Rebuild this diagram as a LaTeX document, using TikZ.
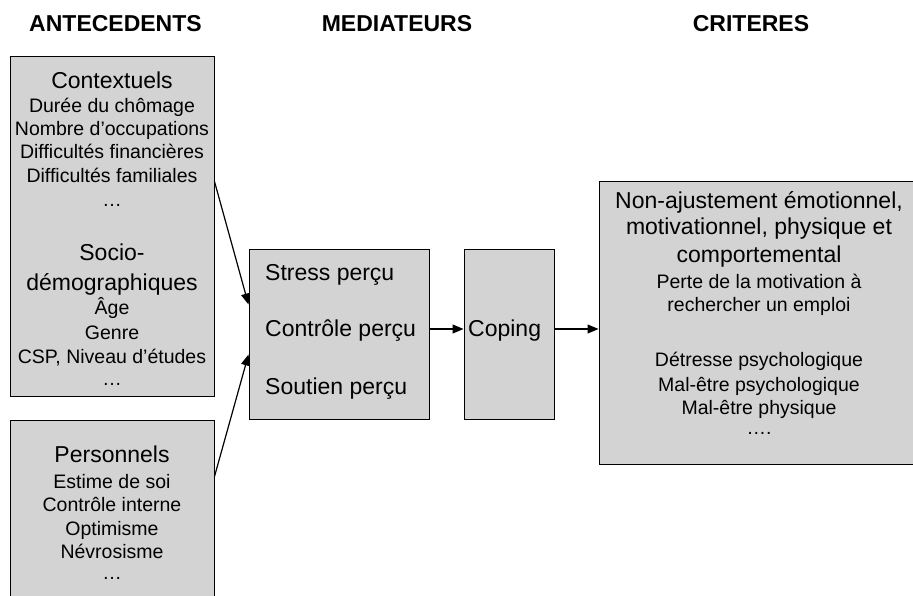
\documentclass[tikz,border=0pt]{standalone}
\usepackage{fontspec}
\setmainfont{Liberation Sans}
\usetikzlibrary{arrows.meta,shadows}
\definecolor{boxgray}{RGB}{211,211,211}

\begin{document}
\begin{tikzpicture}[x=1pt,y=-1pt,>={Triangle[length=11pt,width=9pt]},
		boite/.style={draw,line width=1pt,fill=boxgray,
			drop shadow={shadow xshift=1pt,shadow yshift=-1.2pt,fill=black!60,opacity=1}},
		titre/.style={font=\bfseries\fontsize{23}{27}\selectfont,inner sep=0pt},
		grand/.style={font=\fontsize{23}{27}\selectfont,inner sep=0pt,anchor=base},
		item/.style={font=\fontsize{19.5}{23}\selectfont,inner sep=0pt,anchor=base}]
		\useasboundingbox (0,0) rectangle (913,596);

		% column headings
		\node[titre] (hante) at (115.5,23.5) {ANTECEDENTS};
		\node[titre] (hmed) at (397,23.5) {MEDIATEURS};
		\node[titre] (hcrit) at (751,23.5) {CRITERES};

		% create the boxes
		\node[boite,minimum width=204pt,minimum height=339pt] (contexte) at (112,226.5) {};
		\node[boite,minimum width=204pt,minimum height=200pt] (perso) at (112,520) {};
		\node[boite,minimum width=180pt,minimum height=169pt] (mediat) at (339,334.5) {};
		\node[boite,minimum width=90pt,minimum height=169pt] (coping) at (509,334.5) {};
		\node[boite,minimum width=320pt,minimum height=282pt] (criteres) at (759,323) {};

		% antecedents
		\node[grand] (ctx) at (112,89) {Contextuels};
		\foreach \txt/\y [count=\i] in {Durée du chômage/113, Nombre d’occupations/136,
				Difficultés financières/159, Difficultés familiales/183, …/207}
			\node[item] (ctx\i) at (112,\y) {\txt};
		\node[grand] (socio) at (112,260) {Socio-};
		\node[grand] (demo) at (112,290) {démographiques};
		\foreach \txt/\y [count=\i] in {Âge/314, Genre/339, {CSP, Niveau d’études}/363, …/385}
			\node[item] (demo\i) at (112,\y) {\txt};
		\node[grand] (pers) at (112,462) {Personnels};
		\foreach \txt/\y [count=\i] in {Estime de soi/488, Contrôle interne/511,
				Optimisme/535, Névrosisme/558, …/579}
			\node[item] (pers\i) at (112,\y) {\txt};

		% mediateurs
		\node[grand,anchor=base west] (stress) at (265,280) {Stress perçu};
		\node[grand,anchor=base west] (ctrl) at (265,336) {Contrôle perçu};
		\node[grand,anchor=base west] (soutien) at (265,394) {Soutien perçu};
		\node[grand,anchor=base west] (cop) at (468,336) {Coping};

		% criteres
		\node[grand] (crit1) at (759,209) {Non-ajustement émotionnel,};
		\node[grand] (crit2) at (759,235) {motivationnel, physique et};
		\node[grand] (crit3) at (759,262) {comportemental};
		\foreach \txt/\y [count=\i] in {Perte de la motivation à/288, rechercher un emploi/311,
				Détresse psychologique/366, Mal-être psychologique/391,
				Mal-être physique/414, …./434}
			\node[item] (critx\i) at (759,\y) {\txt};

		% connect the boxes
		\draw[->,line width=1.2pt] ([yshift=-125pt]contexte.north east) -- ([yshift=-55pt]mediat.north west);
		\draw[->,line width=1.2pt] ([yshift=-57pt]perso.north east) -- ([yshift=-105pt]mediat.north west);
		\draw[->,line width=1.2pt] ([yshift=5.5pt]mediat.east) -- ([yshift=5.5pt]coping.west);
		\draw[->,line width=1.2pt] ([yshift=5.5pt]coping.east) -- ([yshift=-6pt]criteres.west);
	\end{tikzpicture}
\end{document}
